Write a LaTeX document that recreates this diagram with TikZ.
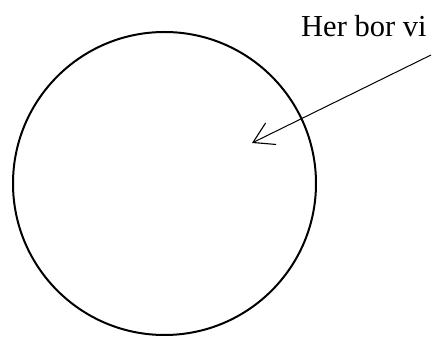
\documentclass[tikz,border=0pt]{standalone}
\usepackage{fontspec}
\setmainfont{Liberation Serif}
\usetikzlibrary{arrows.meta}
\tikzset{
  ring/.style={draw, circle, line width=2pt, minimum size=303pt, inner sep=0pt},
  pointer/.style={line width=1pt, -{Straight Barb[length=20pt,width=24pt,line width=1.1pt]}}
}

\begin{document}
\begin{tikzpicture}[x=1pt,y=1pt]
\useasboundingbox (0,0) rectangle (432,337);
\node[ring] (world) at (164.5,153.5) {};
\node[anchor=base west, inner sep=0pt, font=\fontsize{30.5}{34}\selectfont] (label) at (301,300) {Her bor vi};
\coordinate (from) at (431,282);
\coordinate (home) at (252,194);
\draw[pointer] (from) -- (home);
\end{tikzpicture}
\end{document}
